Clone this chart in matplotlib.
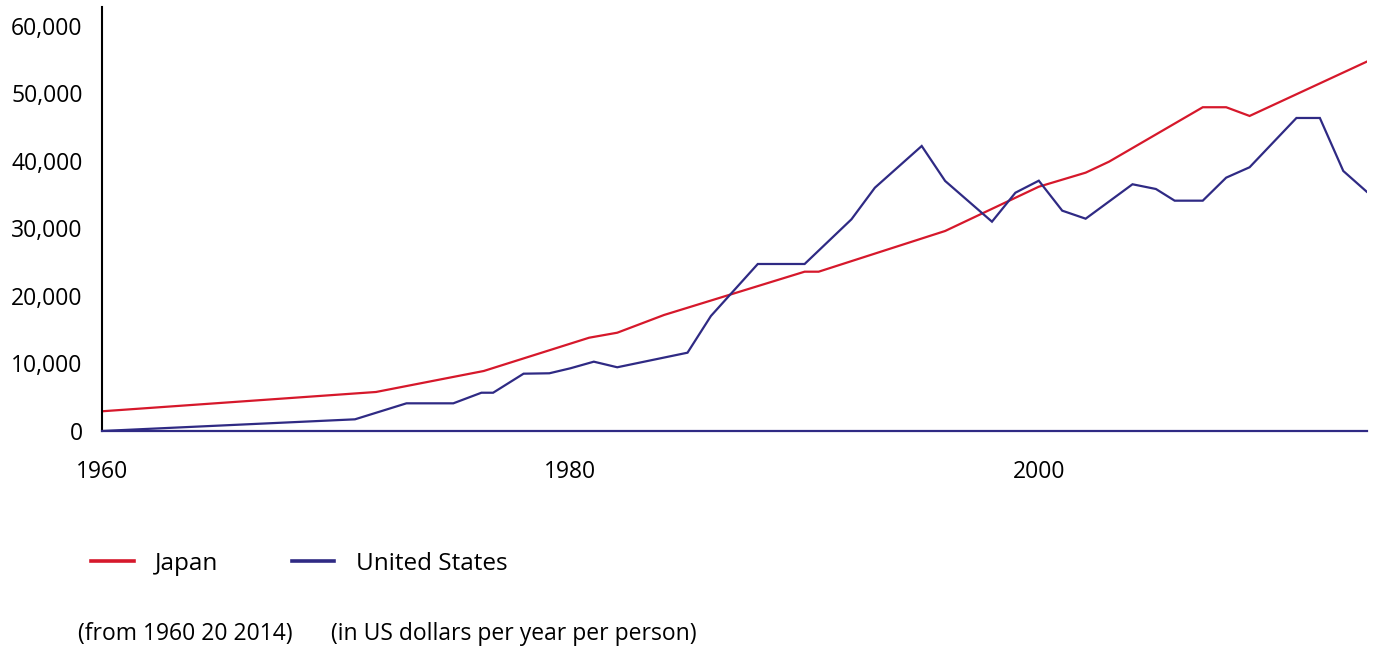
import matplotlib
matplotlib.use("Agg")
import matplotlib.pyplot as plt
from matplotlib.ticker import FuncFormatter

plt.rcParams['font.family'] = ['Open Sans', 'DejaVu Sans']

# Japan (red)
japan_years = [1960, 1971.7, 1976.3, 1980.8, 1982, 1984, 1990, 1990.6, 1996,
               2000, 2002, 2003, 2007, 2008, 2009, 2014]
japan_values = [2920, 5780, 8890, 13820, 14560, 17190, 23600, 23600, 29630,
                36190, 38270, 39900, 47960, 47960, 46670, 54710]

# United States (navy)
us_years = [1960, 1970.8, 1973, 1975, 1976.2, 1976.7, 1978, 1979.1, 1980, 1981,
            1982, 1985, 1986, 1988, 1990, 1992, 1993, 1995, 1996, 1998, 1999,
            2000, 2001, 2002, 2004, 2005, 2005.8, 2007, 2008, 2009, 2011, 2012,
            2013, 2014]
us_values = [0, 1730, 4100, 4100, 5670, 5670, 8490, 8550, 9290, 10270,
             9440, 11600, 17040, 24740, 24740, 31360, 36040, 42220, 37040, 31010, 35300,
             37080, 32640, 31450, 36550, 35850, 34120, 34120, 37530, 39070, 46370, 46370,
             38520, 35450]

x_ticks = [1960, 1980, 2000]
y_ticks = [0, 10000, 20000, 30000, 40000, 50000, 60000]

series_names = ["Japan", "United States"]
footnotes = ["(from 1960 20 2014)", "(in US dollars per year per person)"]

RED = '#d6182b'
NAVY = '#2f2a84'

W, H = 1380, 652
fig = plt.figure(figsize=(W / 100, H / 100), dpi=100)
left, right, bottom, top = 102, 1366.7, 431, 7
ax = fig.add_axes([left / W, (H - bottom) / H, (right - left) / W, (bottom - top) / H])

ax.plot(japan_years, japan_values, color=RED, lw=1.6, label=series_names[0], solid_joinstyle='miter')
ax.plot(us_years, us_values, color=NAVY, lw=1.6, label=series_names[1], solid_joinstyle='miter')

ax.set_xlim(1960, 2014)
ax.set_ylim(0, 62810)
ax.set_xticks(x_ticks)
ax.set_xticklabels([str(t) for t in x_ticks])
ax.set_yticks(y_ticks)
ax.yaxis.set_major_formatter(FuncFormatter(lambda v, p: f"{int(v):,}"))

for s in ['top', 'right']:
    ax.spines[s].set_visible(False)
ax.spines['left'].set_color('black')
ax.spines['left'].set_linewidth(1.5)
ax.spines['bottom'].set_color(NAVY)
ax.spines['bottom'].set_linewidth(1.6)
ax.tick_params(axis='both', length=0, labelsize=16.5, colors='black')
ax.tick_params(axis='y', pad=14)
ax.tick_params(axis='x', pad=21)

leg = fig.legend(loc='center left', bbox_to_anchor=(91 / W, (H - 564) / H), ncol=2,
                 frameon=False, fontsize=17.5, handlelength=1.75, handletextpad=0.9,
                 columnspacing=3.0, borderaxespad=0, borderpad=0)
for line in leg.get_lines():
    line.set_linewidth(2.6)

fig.text(78 / W, (H - 634) / H, footnotes[0], fontsize=16.5, va='center', ha='left')
fig.text(331 / W, (H - 634) / H, footnotes[1], fontsize=16.5, va='center', ha='left')

fig.savefig('out.png', dpi=100)
